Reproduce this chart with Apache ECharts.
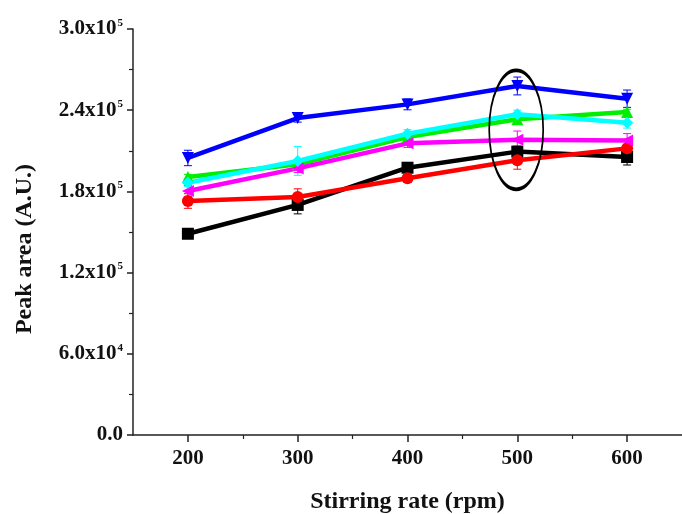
<!DOCTYPE html>
<html>
<head>
<meta charset="utf-8">
<script src="https://cdn.jsdelivr.net/npm/echarts@6/dist/echarts.min.js"></script>
<style>
  html, body { margin: 0; padding: 0; background: #fff; }
  #main { width: 682px; height: 514px; }
</style>
</head>
<body>
<div id="main"></div>
<script>
// stirring rate (rpm)
const rates = [200, 300, 400, 500, 600];
const xMinorTicks = [250, 350, 450, 550];

// peak areas per sample
const blackVals   = [148700, 170000, 197500, 209400, 205400];
const redVals     = [172900, 175900, 189700, 203000, 211800];
const blueVals    = [204700, 234200, 244300, 257900, 248500];
const greenVals   = [190600, 200000, 220200, 233300, 238700];
const cyanVals    = [186400, 202500, 222600, 237000, 230800];
const magentaVals = [180300, 197000, 215500, 218200, 217700];

// error bar half widths
const blackErr   = [3000, 6600, 3000, 4000, 5900];
const redErr     = [5400, 6000, 3000, 6600, 3000];
const blueErr    = [5700, 3000, 4000, 6600, 6400];
const greenErr   = [2000, 2000, 2000, 3000, 2000];
const cyanErr    = [3000, 10600, 3000, 3000, 4000];
const magentaErr = [4000, 3000, 3000, 6400, 5000];

// y tick labels: mantissa | exponent
const yTickLabels = {
  0: '0.0',
  60000: '6.0x10|4',
  120000: '1.2x10|5',
  180000: '1.8x10|5',
  240000: '2.4x10|5',
  300000: '3.0x10|5'
};

// marked group (ellipse) at 500 rpm
const markRate = 499;
const markValue = 225500;

const font = 'Liberation Serif';

function lineSeries(name, vals, color, symbol, rotate) {
  return {
    name: name,
    type: 'line',
    data: rates.map((r, i) => [r, vals[i]]),
    symbol: symbol,
    symbolRotate: rotate || 0,
    symbolSize: 12,
    lineStyle: { color: color, width: 4.5 },
    itemStyle: { color: color },
    z: 3,
    animation: false
  };
}

function errorSeries(vals, errs, color) {
  return {
    type: 'custom',
    data: rates.map((r, i) => [r, vals[i] - errs[i], vals[i] + errs[i]]),
    encode: { x: 0, y: [1, 2] },
    renderItem: function (params, api) {
      var lo = api.coord([api.value(0), api.value(1)]);
      var hi = api.coord([api.value(0), api.value(2)]);
      var w = 4;
      var st = { stroke: color, lineWidth: 1 };
      return {
        type: 'group',
        children: [
          { type: 'line', shape: { x1: lo[0], y1: lo[1], x2: hi[0], y2: hi[1] }, style: st },
          { type: 'line', shape: { x1: lo[0] - w, y1: lo[1], x2: lo[0] + w, y2: lo[1] }, style: st },
          { type: 'line', shape: { x1: hi[0] - w, y1: hi[1], x2: hi[0] + w, y2: hi[1] }, style: st }
        ]
      };
    },
    silent: true,
    z: 2,
    animation: false
  };
}

var chart = echarts.init(document.getElementById('main'));

chart.setOption({
  backgroundColor: '#fff',
  animation: false,
  grid: { left: 133, right: 0, top: 29, height: 406, outerBoundsMode: 'none' },
  xAxis: [{
    type: 'value',
    min: 150,
    max: 650,
    interval: 50,
    name: 'Stirring rate (rpm)',
    nameLocation: 'middle',
    nameGap: 55,
    nameTextStyle: { fontFamily: font, fontWeight: 'bold', fontSize: 24, color: '#111' },
    axisLine: { lineStyle: { color: '#222', width: 1.5 } },
    axisTick: { customValues: rates, length: 7, lineStyle: { color: '#222', width: 1.5 } },
    splitLine: { show: false },
    axisLabel: {
      customValues: rates,
      fontFamily: font, fontWeight: 'bold', fontSize: 21, color: '#111', margin: 13
    }
  }, {
    type: 'value',
    min: 150,
    max: 650,
    interval: 50,
    position: 'bottom',
    axisLine: { show: false },
    axisTick: { customValues: xMinorTicks, length: 4, lineStyle: { color: '#222', width: 1.2 } },
    axisLabel: { show: false },
    splitLine: { show: false }
  }],
  yAxis: {
    type: 'value',
    min: 0,
    max: 300000,
    interval: 60000,
    name: 'Peak area (A.U.)',
    nameLocation: 'middle',
    nameGap: 96,
    nameTextStyle: { fontFamily: font, fontWeight: 'bold', fontSize: 24, color: '#111', padding: [0, 34, 0, 0] },
    axisLine: { show: true, lineStyle: { color: '#222', width: 1.5 } },
    axisTick: { show: true, length: 6, lineStyle: { color: '#222', width: 1.5 } },
    minorTick: { show: true, splitNumber: 2, length: 4, lineStyle: { color: '#222', width: 1.2 } },
    splitLine: { show: false },
    axisLabel: {
      margin: 10,
      formatter: function (v) {
        var t = yTickLabels[v] || '';
        var parts = t.split('|');
        if (parts.length === 1) return '{a|' + t + '}';
        return '{a|' + parts[0] + '}{s|' + parts[1] + '}';
      },
      rich: {
        a: { fontFamily: font, fontWeight: 'bold', fontSize: 21, color: '#111' },
        s: { fontFamily: font, fontWeight: 'bold', fontSize: 11, color: '#111', verticalAlign: 'top', padding: [0, 0, 12, 1] }
      }
    }
  },
  series: [
    errorSeries(blackVals, blackErr, '#000000'),
    errorSeries(redVals, redErr, '#ff0000'),
    errorSeries(blueVals, blueErr, '#0000ff'),
    errorSeries(greenVals, greenErr, '#00ee00'),
    errorSeries(cyanVals, cyanErr, '#00ffff'),
    errorSeries(magentaVals, magentaErr, '#ff00ff'),
    lineSeries('Black', blackVals, '#000000', 'rect'),
    lineSeries('Red', redVals, '#ff0000', 'circle'),
    lineSeries('Green', greenVals, '#00ee00', 'triangle'),
    lineSeries('Magenta', magentaVals, '#ff00ff', 'triangle', 90),
    lineSeries('Cyan', cyanVals, '#00ffff', 'diamond'),
    lineSeries('Blue', blueVals, '#0000ff', 'triangle', 180),
    {
      type: 'scatter',
      data: [[markRate, markValue]],
      symbol: 'circle',
      symbolSize: [54, 119],
      itemStyle: { color: 'rgba(0,0,0,0)', borderColor: '#000', borderWidth: 2.5, opacity: 1 },
      silent: true,
      z: 5,
      animation: false
    }
  ]
});
</script>
</body>
</html>
